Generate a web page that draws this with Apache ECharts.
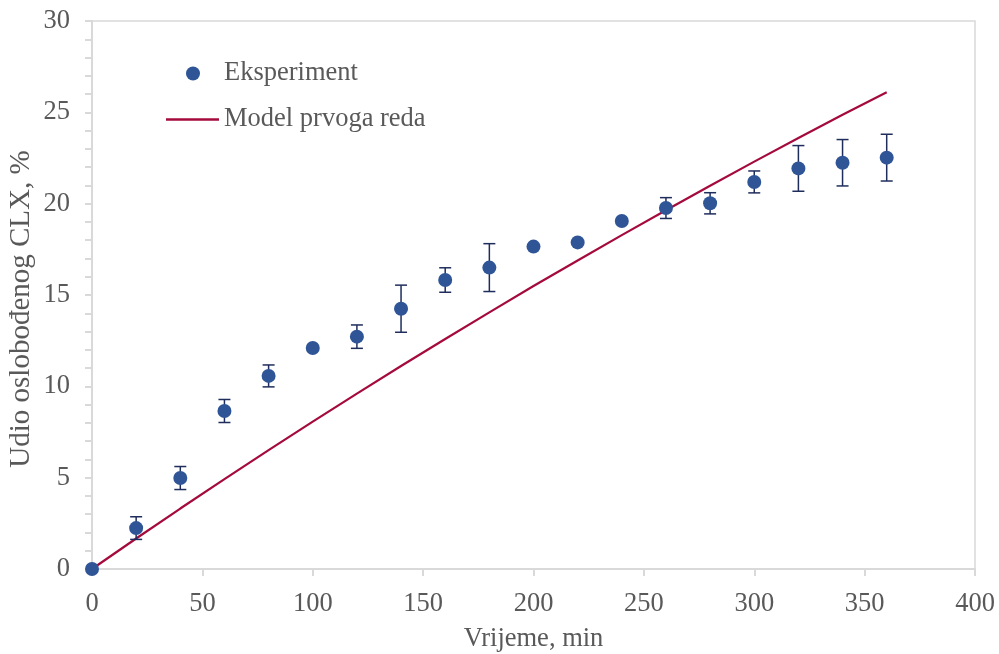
<!DOCTYPE html>
<html><head><meta charset="utf-8">
<script src="https://cdn.jsdelivr.net/npm/echarts@6/dist/echarts.min.js"></script>
<style>html,body{margin:0;padding:0;background:#fff}#c{width:999px;height:654px}</style>
</head><body><div id="c"></div>
<script>
var times = [0,20,40,60,80,100,120,140,160,180,200,220,240,260,280,300,320,340,360];
var experiment = [0,2.24,4.98,8.65,10.57,12.1,12.72,14.25,15.82,16.5,17.65,17.88,19.05,19.76,20.02,21.19,21.93,22.24,22.52];
var errors = [0,0.62,0.63,0.63,0.6,0,0.64,1.29,0.67,1.31,0,0,0,0.57,0.58,0.6,1.25,1.27,1.28];
var model = [0,1.67,3.31,4.92,6.51,8.07,9.6,11.11,12.59,14.05,15.49,16.89,18.28,19.64,20.98,22.3,23.59,24.87,26.1];
var xTicks = [0,50,100,150,200,250,300,350,400];
var yTicks = [0,5,10,15,20,25,30];

var font = '"Liberation Serif", "Times New Roman", serif';
var txt = '#595959';
var axisGray = '#d9d9d9';
var fs = 26.5;

var expData = times.map(function(t,i){return [t, experiment[i]];});
var modelData = times.map(function(t,i){return [t, model[i]];});
var errData = times.map(function(t,i){return [t, experiment[i]-errors[i], experiment[i]+errors[i]];}).filter(function(d,i){return errors[i]>0;});

var chart = echarts.init(document.getElementById('c'));
chart.setOption({
  animation:false,
  backgroundColor:'#fff',
  textStyle:{fontFamily:font},
  grid:{left:92,right:24,top:21,bottom:85,show:true,borderColor:axisGray,borderWidth:1.5,backgroundColor:'transparent',containLabel:false,outerBoundsMode:'none'},
  graphic:[{
    type:'text',x:21,y:309,rotation:Math.PI/2,
    style:{text:'Udio oslobođenog CLX, %',font:'29px "Liberation Serif", serif',fill:txt,textAlign:'center',textVerticalAlign:'middle'}
  }],
  legend:[{
    data:[{name:'Eksperiment',icon:'circle'}],
    left:181,top:55,itemWidth:14,itemHeight:14,itemGap:10,
    textStyle:{fontFamily:font,fontSize:fs,color:txt,padding:[0,0,0,19]}
  },{
    data:[{name:'Model prvoga reda',icon:'rect'}],
    left:161,top:101,itemWidth:53,itemHeight:2.5,itemGap:10,
    itemStyle:{color:'#A50A3C'},
    textStyle:{fontFamily:font,fontSize:fs,color:txt,padding:[0,0,0,0]}
  }],
  xAxis:{
    type:'value',min:xTicks[0],max:xTicks[xTicks.length-1],interval:50,
    name:'Vrijeme, min',nameLocation:'middle',nameGap:57,
    nameTextStyle:{fontFamily:font,fontSize:fs,color:txt},
    axisLine:{show:true,lineStyle:{color:axisGray,width:2}},
    axisTick:{show:true,length:7,lineStyle:{color:axisGray,width:2}},
    axisLabel:{fontFamily:font,fontSize:fs,color:txt,margin:22},
    splitLine:{show:false}
  },
  yAxis:{
    type:'value',min:yTicks[0],max:yTicks[yTicks.length-1],interval:5,
    axisLine:{show:true,lineStyle:{color:axisGray,width:2}},
    axisTick:{show:true,length:7,lineStyle:{color:axisGray,width:2}},
    minorTick:{show:true,splitNumber:5,length:7,lineStyle:{color:axisGray,width:2}},
    axisLabel:{fontFamily:font,fontSize:fs,color:txt,margin:22},
    splitLine:{show:false}
  },
  series:[{
    name:'Model prvoga reda',type:'line',data:modelData,showSymbol:false,symbol:'none',
    lineStyle:{color:'#A50A3C',width:2.2},itemStyle:{color:'#A50A3C'},z:2
  },{
    name:'errbars',type:'custom',data:errData,z:3,clip:false,
    renderItem:function(params,api){
      var x=api.value(0);
      var lo=api.coord([x,api.value(1)]);
      var hi=api.coord([x,api.value(2)]);
      var w=6;
      var st={stroke:'#1F2D5C',lineWidth:1.5};
      return {type:'group',children:[
        {type:'line',shape:{x1:lo[0],y1:lo[1],x2:hi[0],y2:hi[1]},style:st},
        {type:'line',shape:{x1:lo[0]-w,y1:lo[1],x2:lo[0]+w,y2:lo[1]},style:st},
        {type:'line',shape:{x1:hi[0]-w,y1:hi[1],x2:hi[0]+w,y2:hi[1]},style:st}
      ]};
    }
  },{
    name:'Eksperiment',type:'scatter',data:expData,symbol:'circle',symbolSize:14,clip:false,
    itemStyle:{color:'#2F5597',opacity:1},z:4
  }]
});
</script></body></html>
